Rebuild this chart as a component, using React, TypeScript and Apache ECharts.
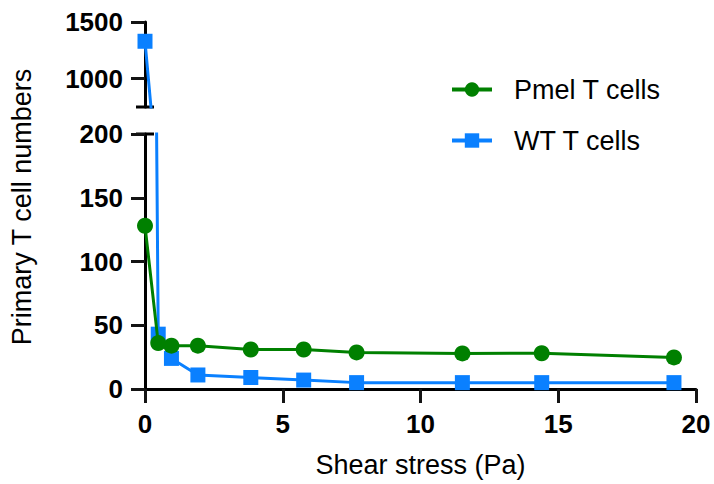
import React, { useEffect, useRef } from "react";
import * as echarts from "echarts";

const shearStress = [0, 0.48, 0.96, 1.92, 3.84, 5.76, 7.68, 11.52, 14.4, 19.2];
const pmelCells = [128, 36, 34, 34, 31, 31, 28.7, 27.9, 28, 24.8];
const wtCells = [1330, 43, 24, 11, 9, 7, 5, 5, 5, 5];
const upperTicks = [1000, 1500];

const FONT = "'Liberation Sans', Arial, Helvetica, sans-serif";
const GREEN = "#008000";
const BLUE = "#0A80FF";
const INK = "#000000";
const TICK_INK = "#141414";

export default function App() {
  const ref = useRef<HTMLDivElement>(null);
  useEffect(() => {
    if (!ref.current) return;
    const chart = echarts.init(ref.current, undefined, { renderer: "svg" });
    const pmel = shearStress.map((x, i) => [x, pmelCells[i]]);
    const wt = shearStress.map((x, i) => [x, wtCells[i]]);
    const axisLine = { show: true, onZero: false, lineStyle: { color: INK, width: 3 } };
    const tick = { show: true, inside: false, length: 14, lineStyle: { color: TICK_INK, width: 3 } };
    const label = {
      show: true, color: INK, fontSize: 26, fontWeight: "bold" as const, margin: 22,
      formatter: (v: number) => String(v),
    };
    chart.setOption({
      animation: false,
      backgroundColor: "#fff",
      textStyle: { fontFamily: FONT },
      grid: [
        { left: 145, right: 18, top: 134, bottom: 95 },
        { left: 145, right: 18, top: 22, height: 85 },
      ],
      xAxis: [
        {
          type: "value", gridIndex: 0, min: 0, max: 20, interval: 5,
          axisLine, axisTick: tick, splitLine: { show: false },
          axisLabel: label,
          name: "Shear stress (Pa)", nameLocation: "middle", nameGap: 62,
          nameTextStyle: { color: INK, fontSize: 27, fontFamily: FONT },
        },
        {
          type: "value", gridIndex: 1, min: 0, max: 20, show: false,
        },
      ],
      yAxis: [
        {
          type: "value", gridIndex: 0, min: 0, max: 200, interval: 50,
          axisLine, axisTick: tick,
          splitLine: { show: false }, axisLabel: label,
        },
        {
          type: "value", gridIndex: 1, min: 750, max: 1500,
          axisLine, axisTick: { ...tick, customValues: upperTicks },
          splitLine: { show: false }, axisLabel: { ...label, customValues: upperTicks },
        },
      ],
      legend: {
        orient: "vertical", left: 450, top: 76, padding: 0, itemWidth: 40, itemHeight: 18, itemGap: 24,
        lineStyle: { width: 4 },
        textStyle: { color: INK, fontSize: 27, fontFamily: FONT, padding: [0, 0, 0, 17] },
        data: ["Pmel T cells", "WT T cells"],
      },
      graphic: [
        { type: "line", shape: { x1: 136, y1: 107, x2: 154, y2: 107 }, style: { stroke: INK, lineWidth: 3 } },
        { type: "line", shape: { x1: 136, y1: 134, x2: 154, y2: 134 }, style: { stroke: INK, lineWidth: 3 } },
        {
          type: "text", x: 22, y: 207, rotation: Math.PI / 2,
          style: { text: "Primary T cell numbers", fill: INK, fontSize: 27, fontFamily: FONT, align: "center", verticalAlign: "middle" },
        },
      ],
      series: [
        {
          name: "WT T cells", type: "line", xAxisIndex: 0, yAxisIndex: 0, data: wt,
          symbol: "rect", symbolSize: 15, color: BLUE, lineStyle: { width: 3, color: BLUE }, z: 2,
        },
        {
          name: "WT T cells", type: "line", xAxisIndex: 1, yAxisIndex: 1, data: wt,
          symbol: "rect", symbolSize: 15, color: BLUE, lineStyle: { width: 3, color: BLUE }, z: 2,
        },
        {
          name: "Pmel T cells", type: "line", xAxisIndex: 0, yAxisIndex: 0, data: pmel,
          symbol: "circle", symbolSize: 16, color: GREEN, lineStyle: { width: 3, color: GREEN }, z: 3,
        },
      ],
    });
    return () => chart.dispose();
  }, []);
  return <div ref={ref} style={{ width: 714, height: 484, position: "absolute", left: 0, top: 0 }} />;
}
